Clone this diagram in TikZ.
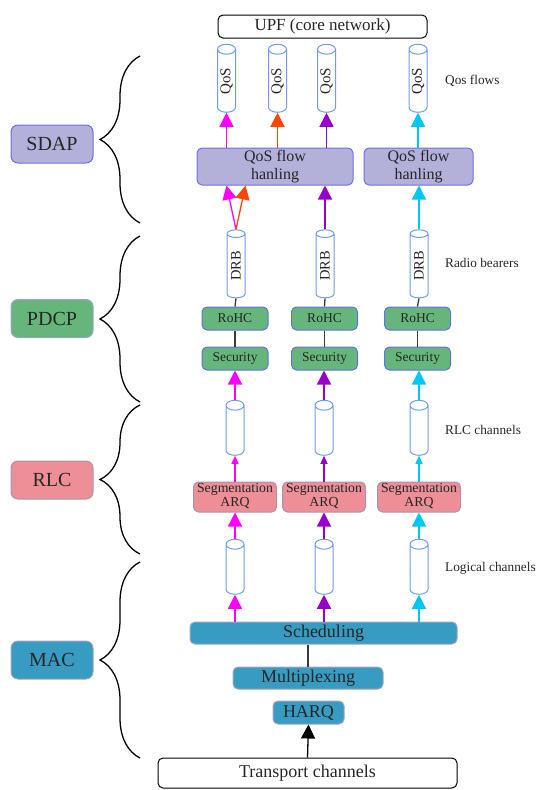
\documentclass[tikz,border=0pt]{standalone}
\usepackage{fontspec}
\setmainfont{LiberationSerif}[Extension=.ttf, UprightFont=*-Regular, BoldFont=*-Bold, ItalicFont=*-Italic]
\usetikzlibrary{arrows.meta,shapes.geometric,decorations.pathreplacing}

\definecolor{txt}{HTML}{262626}
\definecolor{sdapfill}{HTML}{B3B0DA}
\definecolor{sdapline}{HTML}{6E6EEE}
\definecolor{pdcpfill}{HTML}{66B67C}
\definecolor{pdcpline}{HTML}{6070E0}
\definecolor{rlcfill}{HTML}{EE8F98}
\definecolor{rlcline}{HTML}{A494B0}
\definecolor{macfill}{HTML}{389CC2}
\definecolor{macline}{HTML}{9AA6C6}
\definecolor{cylline}{HTML}{6E9CF6}
\definecolor{flowA}{HTML}{FF00FF}
\definecolor{flowB}{HTML}{FF4500}
\definecolor{flowC}{HTML}{9A00CC}
\definecolor{flowD}{HTML}{00C8F6}
\definecolor{linkgray}{HTML}{3A3A3A}

\tikzset{
  box/.style={draw, rounded corners=5pt, line width=1pt, inner sep=0pt, text=txt},
  endbox/.style={box, draw=black, fill=white},
  layer/.style={box, rounded corners=7pt, minimum width=82pt, minimum height=38pt, font=\fontsize{20}{22}\selectfont},
  sdapbox/.style={box, fill=sdapfill, draw=sdapline, font=\fontsize{16}{18}\selectfont, minimum height=37pt},
  pdcpbox/.style={box, fill=pdcpfill, draw=pdcpline, minimum width=66pt, minimum height=23pt, font=\fontsize{13.5}{14}\selectfont},
  rlcbox/.style={box, fill=rlcfill, draw=rlcline, minimum width=83pt, minimum height=30pt, font=\fontsize{13.8}{14}\selectfont},
  macbox/.style={box, fill=macfill, draw=macline, minimum height=22pt, font=\fontsize{18}{20}\selectfont},
  cyl/.style={shape=cylinder, rotate=90, draw=cylline, fill=white, line width=1pt, inner sep=0pt, aspect=0.8, minimum width=18pt, text=txt, font=\fontsize{15}{15}\selectfont},
  note/.style={anchor=west, inner sep=0pt, text=txt, font=\fontsize{13.3}{15}\selectfont},
  big/.style={-{Triangle[width=14pt,length=14pt]}, line width=1.3pt},
  small/.style={-{Triangle[width=7pt,length=8pt]}, line width=1.3pt},
  link/.style={draw=linkgray, line width=1.3pt},
  brace/.style={decorate, decoration={brace, amplitude=40pt}, line width=1.3pt}
}

\begin{document}
\begin{tikzpicture}[x=1pt, y=-1pt]
\useasboundingbox (0,0) rectangle (539,790);

\node[endbox, minimum width=209pt, minimum height=23pt, font=\fontsize{17}{19}\selectfont] (upf) at (322.5,26.5) {UPF (core network)};

\node[cyl, minimum height=68pt] (q1) at (226.5,81) {QoS};
\node[cyl, minimum height=68pt] (q2) at (277.5,81) {QoS};
\node[cyl, minimum height=68pt] (q3) at (326.5,81) {QoS};
\node[cyl, minimum height=68pt] (q4) at (418,81) {QoS};

\node[sdapbox, minimum width=156pt] (h1) at (275,166.5) {\begin{tabular}{@{}c@{}}QoS flow\\hanling\end{tabular}};
\node[sdapbox, minimum width=109pt] (h2) at (418.5,166.5) {\begin{tabular}{@{}c@{}}QoS flow\\hanling\end{tabular}};

\node[cyl, minimum height=68pt, font=\fontsize{14.5}{15}\selectfont] (d1) at (236,266) {DRB};
\node[cyl, minimum height=68pt, font=\fontsize{14.5}{15}\selectfont] (d2) at (325,266) {DRB};
\node[cyl, minimum height=68pt, font=\fontsize{14.5}{15}\selectfont] (d3) at (419,266) {DRB};

\node[pdcpbox] (rohc1) at (235,318.5) {RoHC};
\node[pdcpbox] (rohc2) at (324.5,318.5) {RoHC};
\node[pdcpbox] (rohc3) at (417.5,318.5) {RoHC};
\node[pdcpbox] (sec1) at (235,358.5) {Security};
\node[pdcpbox] (sec2) at (324.5,358.5) {Security};
\node[pdcpbox] (sec3) at (417.5,358.5) {Security};

\node[cyl, minimum height=55pt] (r1) at (235,430.5) {\phantom{QoS}};
\node[cyl, minimum height=55pt] (r2) at (324,430.5) {\phantom{QoS}};
\node[cyl, minimum height=55pt] (r3) at (419,430.5) {\phantom{QoS}};

\node[rlcbox] (seg1) at (235,497) {\begin{tabular}{@{}c@{}}Segmentation\\ARQ\end{tabular}};
\node[rlcbox] (seg2) at (324,497) {\begin{tabular}{@{}c@{}}Segmentation\\ARQ\end{tabular}};
\node[rlcbox] (seg3) at (419,497) {\begin{tabular}{@{}c@{}}Segmentation\\ARQ\end{tabular}};

\node[cyl, minimum height=55pt] (l1) at (235,569.5) {\phantom{QoS}};
\node[cyl, minimum height=55pt] (l2) at (324,569.5) {\phantom{QoS}};
\node[cyl, minimum height=55pt] (l3) at (419,569.5) {\phantom{QoS}};

\node[macbox, minimum width=267pt] (sched) at (323.5,633) {Scheduling};
\node[macbox, minimum width=150pt] (mux) at (308,678) {Multiplexing};
\node[macbox, minimum width=71pt, minimum height=23pt] (harq) at (308.5,712.5) {HARQ};
\node[endbox, minimum width=299pt, minimum height=30pt, font=\fontsize{18}{20}\selectfont] (trans) at (307.5,773) {Transport channels};

\draw[big, flowA] (q1.bottom |- h1.north) -- (q1.bottom);
\draw[big, flowB] (q2.bottom |- h1.north) -- (q2.bottom);
\draw[big, flowC] (q3.bottom |- h1.north) -- (q3.bottom);
\draw[big, flowD] (q4.bottom |- h2.north) -- (q4.bottom);

\draw[big, flowA] (d1.top) -- ([xshift=30pt]h1.south west);
\draw[big, flowB] (d1.top) -- ([xshift=49pt]h1.south west);
\draw[big, flowC] (d2.top) -- (d2.top |- h1.south);
\draw[big, flowD] (d3.top) -- (d3.top |- h2.south);

\draw[link] (d1.bottom) -- (rohc1.north);
\draw[link] (d2.bottom) -- (rohc2.north);
\draw[link] (d3.bottom) -- (rohc3.north);
\draw[link] (rohc1) -- (sec1);
\draw[link] (rohc2) -- (sec2);
\draw[link] (rohc3) -- (sec3);

\draw[big, flowA] (r1.top) -- (r1.top |- sec1.south);
\draw[big, flowC] (r2.top) -- (r2.top |- sec2.south);
\draw[big, flowD] (r3.top) -- (r3.top |- sec3.south);

\draw[small, flowA] (seg1.north) -- (r1.bottom);
\draw[small, flowC] (seg2.north) -- (r2.bottom);
\draw[small, flowD] (seg3.north) -- (r3.bottom);

\draw[big, flowA] (l1.top) -- (seg1.south);
\draw[big, flowC] (l2.top) -- (seg2.south);
\draw[big, flowD] (l3.top) -- (seg3.south);

\draw[big, flowA] (l1.bottom |- sched.north) -- (l1.bottom);
\draw[big, flowC] (l2.bottom |- sched.north) -- (l2.bottom);
\draw[big, flowD] (l3.bottom |- sched.north) -- (l3.bottom);

\draw[link] (mux.north |- sched.south) -- (mux.north);
\draw[big, black] (trans.north) -- (harq.south);

\node[note] (nqos) at (445,81) {Qos flows};
\node[note] (ndrb) at (445,263) {Radio bearers};
\node[note] (nrlc) at (445,430) {RLC channels};
\node[note] (nlog) at (445,568) {Logical channels};

\node[layer, fill=sdapfill, draw=sdapline] (sdap) at (52,144) {SDAP};
\node[layer, fill=pdcpfill, draw=macline] (pdcp) at (52,318.5) {PDCP};
\node[layer, fill=rlcfill, draw=rlcline] (rlc) at (52,480) {RLC};
\node[layer, fill=macfill, draw=macline] (mac) at (52,660) {MAC};

\draw[brace] (140,223) -- (140,56);
\draw[brace] (140,402) -- (140,236);
\draw[brace] (140,554) -- (140,405);
\draw[brace] (140,758) -- (140,562);
\end{tikzpicture}
\end{document}
